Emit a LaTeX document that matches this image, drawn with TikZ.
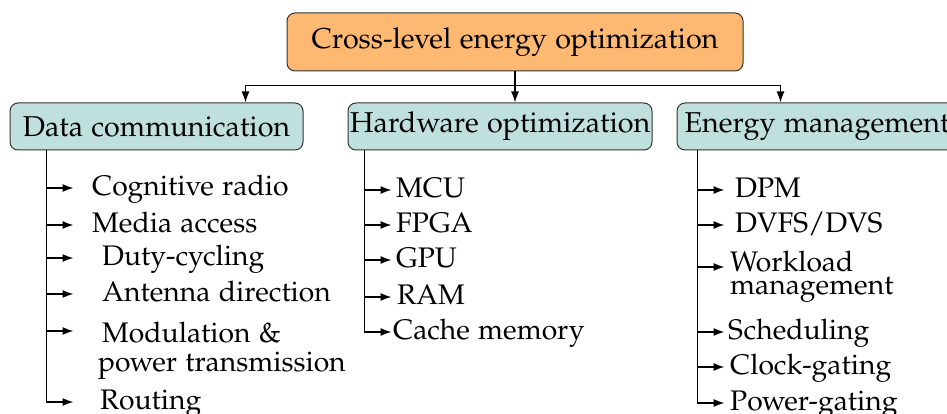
\documentclass[tikz,border=0pt]{standalone}
\usepackage[T1]{fontenc}
\usepackage[sc]{mathpazo}
\usetikzlibrary{positioning,calc,arrows.meta}
\definecolor{rootfill}{RGB}{253,184,114}
\definecolor{branchfill}{RGB}{191,224,221}
\pgfmathsetmacro{\boxrad}{8}
\pgfmathsetmacro{\tiplen}{27}
\tikzset{
  rootbox/.style={draw=black!80, line width=1pt, fill=rootfill, rounded corners=\boxrad pt,
    minimum width=456pt, minimum height=58pt, inner sep=0pt, font=\fontsize{28.7}{31}\selectfont},
  branchbox/.style={draw=black!80, line width=1pt, fill=branchfill, rounded corners=\boxrad pt,
    minimum height=47pt, inner sep=0pt, font=\fontsize{28.7}{31}\selectfont},
  leaf/.style={anchor=west, inner sep=0pt, text height=20pt, text depth=5.5pt,
    font=\fontsize{28.3}{30}\selectfont},
  leaflines/.style={anchor=north west, inner sep=0pt, align=left},
  feed/.style={-{Latex[length=11pt,width=8pt]}, line width=1.4pt, black},
}
\begin{document}
\begin{tikzpicture}[x=1pt,y=-1pt]
    \useasboundingbox (0,0) rectangle (947,414);
    % top level
    \node[rootbox] (root) at (515,42) {Cross-level energy optimization};
    % second level
    \node[branchbox, minimum width=293pt] (comm) at (156.5,126.5) {Data communication};
    \node[branchbox, minimum width=304pt] (hw) at (500,126.5) {Hardware optimization};
    \node[branchbox, minimum width=280pt] (energy) at (817,126.5) {Energy management};
    % split below the root
    \coordinate (split) at ($(root.south)+(0,14)$);
    \draw[feed, -] (root.south) -- (split);
    \draw[feed] (split) -| ($(comm.north east)+(-58,0)$);
    \draw[feed] (split) -- (split |- hw.north);
    \draw[feed] (split) -| ($(energy.north west)+(104,0)$);
    % data communication
    \coordinate (comm_spine) at ($(comm.south west)+(37,0)$);
    \coordinate (comm_tip) at ($(comm_spine)+(\tiplen,0)$);
    \node[leaf] (cr) at (92,188) {Cognitive radio};
    \node[leaf] (ma) at (92,225) {Media access};
    \node[leaf] (dc) at (102,258) {Duty-cycling};
    \node[leaf] (ad) at (102,294) {Antenna direction};
    \node[leaflines, font=\fontsize{28.3}{29}\selectfont] (mp) at (98,322)
        {\hspace*{4pt}Modulation \&\\power transmission};
    \node[leaf] (rt) at (100,402) {Routing};
    \draw[feed] (comm_spine |- cr.west) -- (comm_tip |- cr.west);
    \draw[feed] (comm_spine |- ma.west) -- (comm_tip |- ma.west);
    \draw[feed] (comm_spine |- dc.west) -- (comm_tip |- dc.west);
    \draw[feed] (comm_spine |- ad.west) -- (comm_tip |- ad.west);
    \draw[feed] ($(comm_spine |- mp.north)+(0,9)$) -- ($(comm_tip |- mp.north)+(0,9)$);
    \draw[feed] (comm_spine) |- (comm_tip |- rt.west);
    % hardware optimization
    \coordinate (hw_spine) at ($(hw.south west)+(17,0)$);
    \coordinate (hw_tip) at ($(hw_spine)+(\tiplen,0)$);
    \node[leaf] (mcu) at (396,190) {MCU};
    \node[leaf] (fpga) at (396,225) {FPGA};
    \node[leaf] (gpu) at (396,260) {GPU};
    \node[leaf] (ram) at (397,297) {RAM};
    \node[leaf] (cache) at (393,332) {Cache memory};
    \draw[feed] (hw_spine |- mcu.west) -- (hw_tip |- mcu.west);
    \draw[feed] (hw_spine |- fpga.west) -- (hw_tip |- fpga.west);
    \draw[feed] (hw_spine |- gpu.west) -- (hw_tip |- gpu.west);
    \draw[feed] (hw_spine |- ram.west) -- (hw_tip |- ram.west);
    \draw[feed] (hw_spine) |- (hw_tip |- cache.west);
    % energy management
    \coordinate (en_spine) at ($(energy.south west)+(21,0)$);
    \coordinate (en_tip) at ($(en_spine)+(\tiplen,0)$);
    \node[leaf] (dpm) at (735,190) {DPM};
    \node[leaf] (dvfs) at (735,225) {DVFS/DVS};
    \node[leaflines, font=\fontsize{28.3}{23}\selectfont] (wl) at (730,251)
        {Workload\\management};
    \node[leaf] (sched) at (728,332) {Scheduling};
    \node[leaf] (clk) at (730,367) {Clock-gating};
    \node[leaf] (pwr) at (730,403) {Power-gating};
    \draw[feed] (en_spine |- dpm.west) -- (en_tip |- dpm.west);
    \draw[feed] (en_spine |- dvfs.west) -- (en_tip |- dvfs.west);
    \draw[feed] ($(en_spine |- wl.north)+(0,16)$) -- ($(en_tip |- wl.north)+(0,16)$);
    \draw[feed] (en_spine |- sched.west) -- (en_tip |- sched.west);
    \draw[feed] (en_spine |- clk.west) -- (en_tip |- clk.west);
    \draw[feed] (en_spine) |- (en_tip |- pwr.west);
\end{tikzpicture}
\end{document}
